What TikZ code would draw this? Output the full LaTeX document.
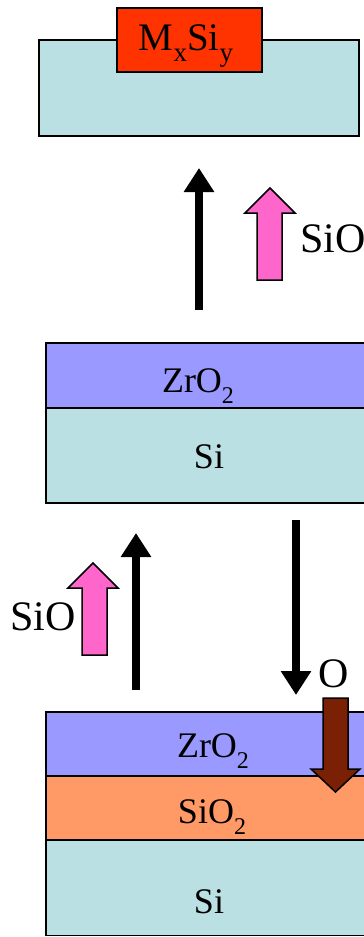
\documentclass[tikz,border=0pt]{standalone}
\usepackage{fontspec}
\setmainfont{Liberation Serif}
\usetikzlibrary{arrows.meta}
\definecolor{siblue}{HTML}{BBE0E3}
\definecolor{zrpurple}{HTML}{9999FF}
\definecolor{oxorange}{HTML}{FF9966}
\definecolor{silred}{HTML}{FF3300}
\definecolor{sipink}{HTML}{FF66CC}
\definecolor{obrown}{HTML}{7A2005}
\newcommand{\lsub}[1]{\raisebox{-11pt}{\fontsize{24}{24}\selectfont #1}}
\newcommand{\msub}[1]{\raisebox{-11pt}{\fontsize{27}{27}\selectfont #1}}
\tikzset{
  layer/.style={draw=black, line width=1.5pt},
  lbl/.style={inner sep=0pt, anchor=base, font=\fontsize{36}{40}\selectfont},
  biglbl/.style={inner sep=0pt, font=\fontsize{42}{46}\selectfont},
  flow/.style={line width=8pt, -{Triangle[width=29pt,length=24pt]}},
  blockarrow/.style={draw=black, line width=1.5pt, line join=miter}
}
\begin{document}
\begin{tikzpicture}[x=1pt,y=-1pt]
\useasboundingbox (0,0) rectangle (364,937);
\clip (0,0) rectangle (364,937);
% top stack
\filldraw[layer, fill=siblue] (39,40) rectangle (359,136);
\filldraw[layer, fill=silred] (117,8) rectangle (262,72);
\node[lbl, font=\fontsize{39}{42}\selectfont] (mxsi) at (186,50) {M\msub{x}Si\msub{y}};
% middle stack
\filldraw[layer, fill=zrpurple] (46,343) rectangle (390,408);
\filldraw[layer, fill=siblue] (46,408) rectangle (390,503);
\node[lbl] (zr1) at (198,392) {ZrO\lsub{2}};
\node[lbl] (si1) at (209,468) {Si};
% bottom stack
\filldraw[layer, fill=zrpurple] (46,712) rectangle (390,776);
\filldraw[layer, fill=oxorange] (46,776) rectangle (390,840);
\filldraw[layer, fill=siblue] (46,840) rectangle (390,935.5);
\node[lbl] (zr2) at (213,757) {ZrO\lsub{2}};
\node[lbl] (sio2) at (212,823) {SiO\lsub{2}};
\node[lbl] (si2) at (209,913) {Si};
% black arrows
\coordinate (a1s) at (199,310);
\coordinate (a1e) at (199,168);
\draw[flow] (a1s) -- (a1e);
\coordinate (a2s) at (136,690);
\coordinate (a2e) at (136,533);
\draw[flow] (a2s) -- (a2e);
\coordinate (a3s) at (296,520);
\coordinate (a3e) at (296,695);
\draw[flow] (a3s) -- (a3e);
% pink block arrows
\filldraw[blockarrow, fill=sipink] (257,280) -- (257,213) -- (245,213) -- (270,188) -- (295,213) -- (282,213) -- (282,280) -- cycle;
\filldraw[blockarrow, fill=sipink] (82,655) -- (82,588) -- (68,588) -- (93,563) -- (118,588) -- (107,588) -- (107,655) -- cycle;
% brown block arrow
\filldraw[blockarrow, fill=obrown] (323,698) -- (348,698) -- (348,769) -- (360,769) -- (335.5,792) -- (311,769) -- (323,769) -- cycle;
% labels
\node[biglbl, anchor=base west] (sioT) at (300,252) {SiO};
\node[biglbl, anchor=base west] (sioB) at (10,630) {SiO};
\node[biglbl, anchor=base] (oxy) at (334,687) {O};
\end{tikzpicture}
\end{document}
